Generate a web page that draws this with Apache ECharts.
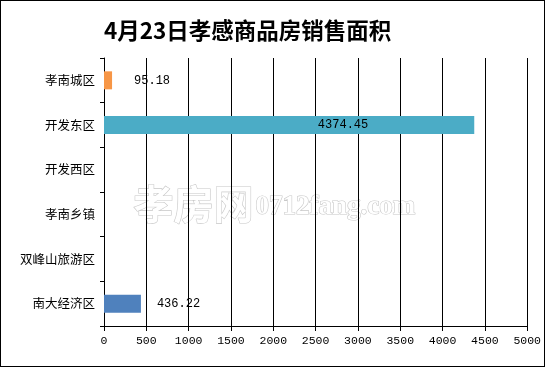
<!DOCTYPE html>
<html><head><meta charset="utf-8">
<script src="https://cdn.jsdelivr.net/npm/echarts@6/dist/echarts.min.js"></script>
<style>html,body{margin:0;padding:0;background:#fff}#c{width:545px;height:367px;box-sizing:border-box;border:1px solid #000}</style>
</head><body><div id="c"></div>
<script>
var titleText = '4月23日孝感商品房销售面积';
var categories = ['孝南城区', '开发东区', '开发西区', '孝南乡镇', '双峰山旅游区', '南大经济区'];
var values = [95.18, 4374.45, null, null, null, 436.22];
var colors = ['#F79646', '#4BACC6', '#9BBB59', '#8064A2', '#C0504D', '#4F81BD'];
var xTicks = [0, 500, 1000, 1500, 2000, 2500, 3000, 3500, 4000, 4500, 5000];

var chart = echarts.init(document.getElementById('c'));
var labelCfg = [
  {position: 'right', distance: 22},
  {position: 'insideRight', distance: 106},
  {}, {}, {},
  {position: 'right', distance: 16}
];
var data = values.map(function (v, i) {
  return {
    value: v,
    itemStyle: {color: colors[i]},
    label: Object.assign({show: v != null}, labelCfg[i])
  };
});
chart.setOption({
  animation: false,
  title: {
    text: titleText, left: 98, top: 13,
    textStyle: {fontFamily: 'Noto Sans CJK SC', fontWeight: 'bold', fontSize: 22.5, color: '#000'}
  },
  grid: {left: 103, right: 15, top: 57, bottom: 40},
  xAxis: {
    type: 'value', min: xTicks[0], max: xTicks[xTicks.length - 1], interval: 500,
    axisLine: {show: true, lineStyle: {color: '#000'}},
    axisTick: {show: true, length: 5, lineStyle: {color: '#000'}},
    splitLine: {show: true, lineStyle: {color: '#000', width: 1}},
    axisLabel: {color: '#000', fontFamily: 'Liberation Mono', fontSize: 11.5, margin: 9,
      formatter: function (v) { return String(v); }}
  },
  yAxis: {
    type: 'category', data: categories, inverse: true,
    axisLine: {show: true, lineStyle: {color: '#000'}},
    axisTick: {show: true, length: 4, lineStyle: {color: '#000'}},
    axisLabel: {color: '#000', fontFamily: 'Noto Sans CJK SC', fontSize: 12.5, margin: 9}
  },
  series: [{
    type: 'bar', data: data, barWidth: 18,
    label: {color: '#000', fontFamily: 'Liberation Mono', fontSize: 12, formatter: function (p) { return p.value.toFixed(2); }}
  }],
  graphic: [{
    type: 'group', left: 132, top: 182, z: 100,
    children: [
      {type: 'text', left: 0, top: 0, style: {text: '孝房网', fontFamily: 'Noto Sans CJK SC', fontSize: 40, fontWeight: 'bold', fill: '#fff', stroke: '#c8c8c8', lineWidth: 1.2}},
      {type: 'text', left: 122, top: 10, style: {text: '0712fang.com', fontFamily: 'Liberation Serif', fontSize: 27, fontWeight: 'bold', fill: '#fff', stroke: '#c8c8c8', lineWidth: 1.2}}
    ]
  }]
});
</script></body></html>
